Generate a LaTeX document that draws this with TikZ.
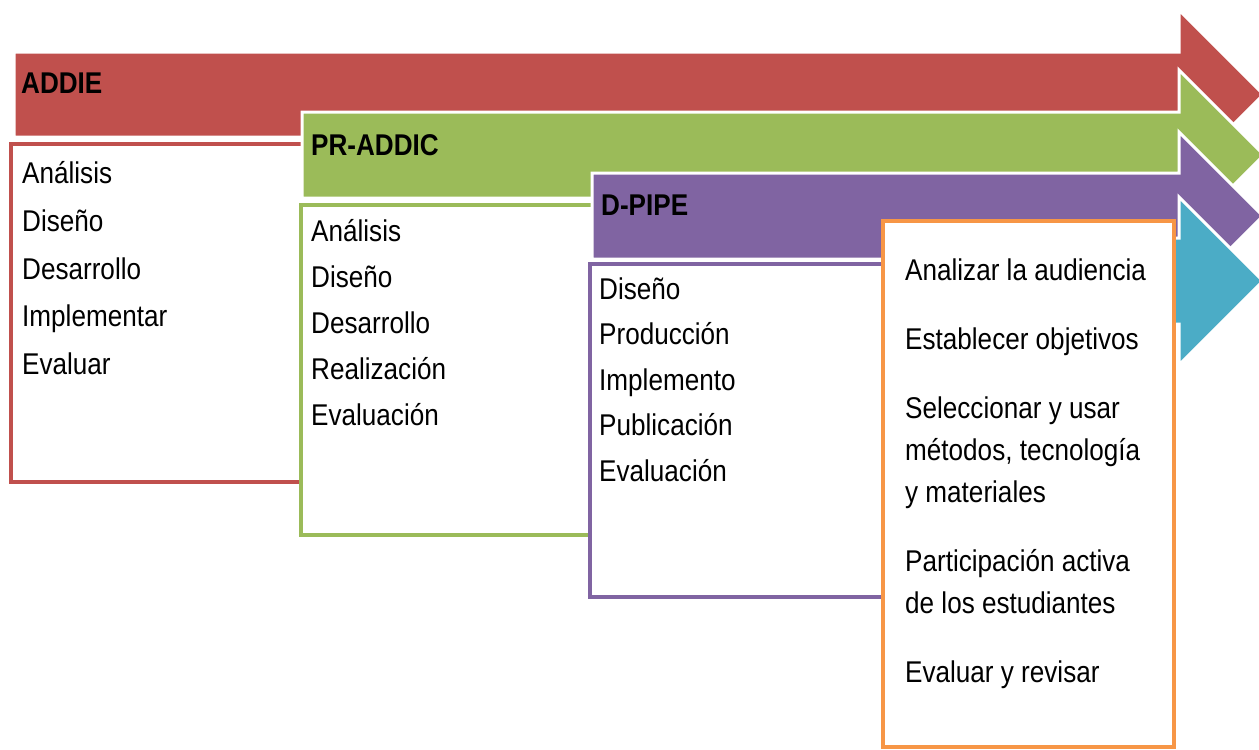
\documentclass[tikz,border=0pt]{standalone}
\usepackage{fontspec}
\setmainfont{Liberation Sans}[FakeStretch=0.87]
\definecolor{cred}{HTML}{C0504D}
\definecolor{cgreen}{HTML}{9BBB59}
\definecolor{cpurple}{HTML}{8064A2}
\definecolor{ccyan}{HTML}{4BACC6}
\definecolor{corange}{HTML}{F79646}
\tikzset{
  arrowshape/.style={draw=white, line width=3pt, line join=miter},
  boxstyle/.style={line width=4.5pt, line join=miter},
  title/.style={font=\bfseries\fontsize{30}{36}\selectfont, anchor=base west, inner sep=0pt},
  item/.style={font=\fontsize{30}{36}\selectfont, anchor=base west, inner sep=0pt}
}
\begin{document}
\begin{tikzpicture}[x=1pt,y=-1pt]
\clip (0,0) rectangle (1259,750);
\fill[white] (0,0) rectangle (1259,750);
% red arrow
\path[arrowshape, fill=cred] (14,52) -- (1179,52) -- (1179,10) -- (1263.5,94.5) -- (1179,179) -- (1179,137) -- (14,137) -- cycle;
\fill[white] (11,144) rectangle (500,482);
\draw[boxstyle, draw=cred] (500,144) -- (11,144) -- (11,482) -- (500,482);
% green arrow
\path[arrowshape, fill=cgreen] (302,112) -- (1179,112) -- (1179,70) -- (1264,155) -- (1179,240) -- (1179,198) -- (302,198) -- cycle;
\fill[white] (301,205) rectangle (800,535);
\draw[boxstyle, draw=cgreen] (800,205) -- (301,205) -- (301,535) -- (800,535);
% purple arrow
\path[arrowshape, fill=cpurple] (592,173) -- (1179,173) -- (1179,132) -- (1263,216) -- (1179,300) -- (1179,259) -- (592,259) -- cycle;
\fill[white] (590,264) rectangle (1000,597);
\draw[boxstyle, draw=cpurple] (1000,264) -- (590,264) -- (590,597) -- (1000,597);
% cyan arrow
\path[arrowshape, fill=ccyan] (890,238) -- (1179,238) -- (1179,197) -- (1263,281) -- (1179,365) -- (1179,324) -- (890,324) -- cycle;
\draw[boxstyle, draw=corange, fill=white] (883,221) rectangle (1174,747);
% titles
\node[title] (tA) at (21,93) {ADDIE};
\node[title] (tB) at (311,155) {PR-ADDIC};
\node[title] (tC) at (601,215) {D-PIPE};
% red items
\node[item] (r1) at (22,183) {Análisis};
\node[item] (r2) at (22,231) {Diseño};
\node[item] (r3) at (22,279) {Desarrollo};
\node[item] (r4) at (22,326.5) {Implementar};
\node[item] (r5) at (22,374) {Evaluar};
% green items
\node[item] (g1) at (311,241) {Análisis};
\node[item] (g2) at (311,287) {Diseño};
\node[item] (g3) at (311,333) {Desarrollo};
\node[item] (g4) at (311,379) {Realización};
\node[item] (g5) at (311,425) {Evaluación};
% purple items
\node[item] (p1) at (599,299) {Diseño};
\node[item] (p2) at (599,344.5) {Producción};
\node[item] (p3) at (599,390) {Implemento};
\node[item] (p4) at (599,435.5) {Publicación};
\node[item] (p5) at (599,481) {Evaluación};
% orange items
\node[item] (o1) at (905,280) {Analizar la audiencia};
\node[item] (o2) at (905,349) {Establecer objetivos};
\node[item] (o3) at (905,418) {Seleccionar y usar};
\node[item] (o4) at (905,460) {métodos, tecnología};
\node[item] (o5) at (905,502) {y materiales};
\node[item] (o6) at (905,571) {Participación activa};
\node[item] (o7) at (905,613) {de los estudiantes};
\node[item] (o8) at (905,682) {Evaluar y revisar};
\end{tikzpicture}
\end{document}
